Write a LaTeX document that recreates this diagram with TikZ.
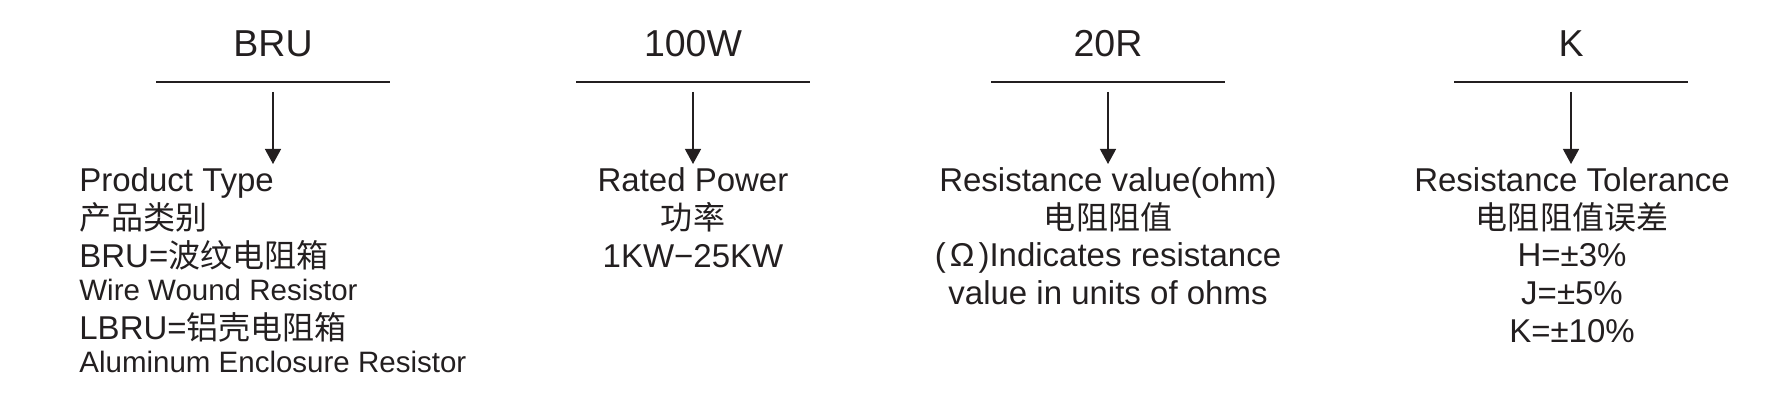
\documentclass[tikz,border=0pt]{standalone}
\usepackage{fontspec}
\setmainfont{Liberation Sans}
\newfontfamily\cjk[Scale=0.97]{Noto Sans CJK SC}
\usetikzlibrary{arrows.meta}
\definecolor{ink}{HTML}{231F20}
\tikzset{
  rule/.style={draw=ink,line width=0.75pt},
  pointer/.style={draw=ink,line width=0.65pt,-{Triangle[width=8pt,length=7.5pt]}},
  head/.style={text=ink,font=\fontsize{18.75}{22}\selectfont,inner sep=0pt,anchor=base},
  body/.style={text=ink,font=\fontsize{16.5}{19}\selectfont,inner sep=0pt,anchor=base},
  note/.style={body,font=\fontsize{14.75}{17}\selectfont},
}
\begin{document}
\begin{tikzpicture}[x=0.5pt,y=-0.5pt]
	\useasboundingbox (0,0) rectangle (1783,400);
	% code letters
	\node[head] (bru) at (273,57) {BRU};
	\node[head] (watt) at (693,57) {100W};
	\node[head] (ohm) at (1108,57) {20R};
	\node[head] (tol) at (1571,57) {K};
	% rules and pointers
	\foreach \c/\n in {273/bru,693/watt,1108/ohm,1571/tol}{
		\coordinate (\n-a) at (\c-117,82);
		\coordinate (\n-b) at (\c+117,82);
		\coordinate (\n-s) at (\c,92);
		\coordinate (\n-e) at (\c,164);
		\draw[rule] (\n-a) -- (\n-b);
		\draw[pointer] (\n-s) -- (\n-e);
	}
	% product type
	\node[body,anchor=base west] (type1) at (79,192) {Product Type};
	\node[body,anchor=base west] (type2) at (79,230) {\cjk 产品类别};
	\node[body,anchor=base west] (type3) at (79,268) {BRU={\cjk 波纹电阻箱}};
	\node[note,anchor=base west] (type4) at (79,301) {Wire Wound Resistor};
	\node[body,anchor=base west] (type5) at (79,340) {LBRU={\cjk 铝壳电阻箱}};
	\node[note,anchor=base west] (type6) at (79,373) {Aluminum Enclosure Resistor};
	% rated power
	\node[body] (watt1) at (693,192) {Rated Power};
	\node[body] (watt2) at (693,230) {\cjk 功率};
	\node[body] (watt3) at (693,268) {1KW−25KW};
	% resistance value
	\node[body] (ohm1) at (1108,192) {Resistance value(ohm)};
	\node[body] (ohm2) at (1108,230) {\cjk 电阻阻值};
	\node[body] (ohm3) at (1108,267) {(\kern2pt Ω\kern2pt)Indicates resistance};
	\node[body] (ohm4) at (1108,305) {value in units of ohms};
	% tolerance
	\node[body] (tol1) at (1572,192) {Resistance Tolerance};
	\node[body] (tol2) at (1572,230) {\cjk 电阻阻值误差};
	\node[body] (tol3) at (1572,267) {H=±3\%};
	\node[body] (tol4) at (1572,305) {J=±5\%};
	\node[body] (tol5) at (1572,343) {K=±10\%};
\end{tikzpicture}
\end{document}
